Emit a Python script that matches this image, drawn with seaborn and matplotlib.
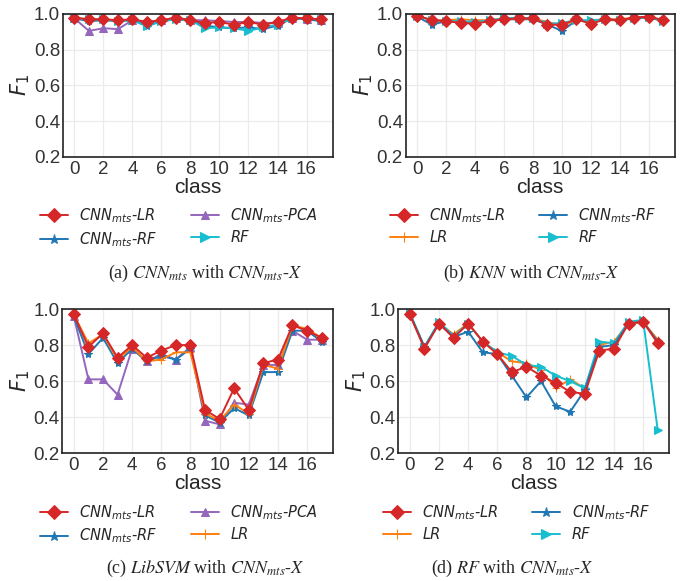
import seaborn as sns
import matplotlib.pyplot as plt
import numpy as np

classes = list(range(18))

# (a) CNN_mts with CNN_mts-X
a_cnn_lr = [0.98, 0.97, 0.97, 0.965, 0.97, 0.955, 0.965, 0.98, 0.965, 0.95, 0.955, 0.94, 0.955, 0.94, 0.955, 0.98, 0.975, 0.97]
a_cnn_pca = [0.975, 0.905, 0.92, 0.915, 0.965, 0.955, 0.965, 0.975, 0.965, 0.965, 0.96, 0.955, 0.955, 0.95, 0.95, 0.975, 0.97, 0.965]
a_cnn_rf = [0.975, 0.96, 0.965, 0.96, 0.965, 0.935, 0.96, 0.97, 0.965, 0.935, 0.925, 0.92, 0.925, 0.915, 0.935, 0.975, 0.97, 0.96]
a_rf = [0.975, 0.97, 0.97, 0.96, 0.965, 0.93, 0.96, 0.97, 0.965, 0.92, 0.925, 0.92, 0.905, 0.925, 0.94, 0.975, 0.975, 0.97]

# (b) KNN with CNN_mts-X
b_cnn_lr = [0.99, 0.965, 0.96, 0.95, 0.945, 0.96, 0.97, 0.975, 0.975, 0.94, 0.94, 0.97, 0.945, 0.97, 0.965, 0.98, 0.985, 0.965]
b_cnn_rf = [0.985, 0.94, 0.96, 0.955, 0.955, 0.96, 0.97, 0.97, 0.97, 0.94, 0.905, 0.965, 0.955, 0.965, 0.965, 0.975, 0.98, 0.96]
b_lr = [0.99, 0.965, 0.965, 0.97, 0.965, 0.965, 0.975, 0.975, 0.975, 0.955, 0.935, 0.965, 0.955, 0.97, 0.97, 0.98, 0.985, 0.965]
b_rf = [0.99, 0.965, 0.96, 0.96, 0.955, 0.965, 0.975, 0.98, 0.975, 0.945, 0.95, 0.965, 0.965, 0.97, 0.965, 0.975, 0.985, 0.96]

# (c) LibSVM with CNN_mts-X
c_cnn_lr = [0.97, 0.79, 0.865, 0.73, 0.80, 0.73, 0.77, 0.80, 0.80, 0.44, 0.39, 0.56, 0.44, 0.70, 0.72, 0.91, 0.88, 0.84]
c_cnn_pca = [0.96, 0.61, 0.61, 0.525, 0.78, 0.71, 0.75, 0.72, 0.79, 0.38, 0.36, 0.48, 0.47, 0.69, 0.69, 0.88, 0.83, 0.83]
c_cnn_rf = [0.96, 0.75, 0.84, 0.70, 0.78, 0.71, 0.74, 0.72, 0.78, 0.41, 0.37, 0.45, 0.41, 0.65, 0.65, 0.88, 0.88, 0.82]
c_lr = [0.97, 0.81, 0.86, 0.72, 0.79, 0.71, 0.72, 0.76, 0.76, 0.42, 0.38, 0.47, 0.42, 0.69, 0.67, 0.91, 0.89, 0.84]

# (d) RF with CNN_mts-X
d_cnn_lr = [0.97, 0.78, 0.92, 0.84, 0.92, 0.82, 0.75, 0.65, 0.68, 0.63, 0.59, 0.54, 0.53, 0.77, 0.78, 0.92, 0.93, 0.81]
d_cnn_rf = [0.97, 0.79, 0.92, 0.845, 0.875, 0.76, 0.75, 0.63, 0.51, 0.60, 0.46, 0.43, 0.55, 0.79, 0.80, 0.92, 0.93, 0.82]
d_lr = [0.97, 0.79, 0.92, 0.86, 0.92, 0.82, 0.76, 0.71, 0.70, 0.66, 0.56, 0.61, 0.56, 0.80, 0.82, 0.92, 0.93, 0.83]
d_rf = [0.98, 0.79, 0.93, 0.85, 0.92, 0.82, 0.76, 0.74, 0.69, 0.68, 0.63, 0.60, 0.56, 0.82, 0.81, 0.93, 0.94, 0.33]

captions = [r'(a) $\it{CNN}_{mts}$ with $\it{CNN}_{mts}$-$\it{X}$',
            r'(b) $\it{KNN}$ with $\it{CNN}_{mts}$-$\it{X}$',
            r'(c) $\it{LibSVM}$ with $\it{CNN}_{mts}$-$\it{X}$',
            r'(d) $\it{RF}$ with $\it{CNN}_{mts}$-$\it{X}$']

sns.set_style('whitegrid')
plt.rcParams['font.family'] = ['Liberation Sans', 'DejaVu Sans']

styles = {
    'CNN-LR': ('#d62728', 'D', 6.5, r'CNN$_{mts}$-LR'),
    'CNN-RF': ('#1f77b4', '*', 6, r'CNN$_{mts}$-RF'),
    'CNN-PCA': ('#9467bd', '^', 5.5, r'CNN$_{mts}$-PCA'),
    'LR': ('#ff7f0e', '+', 6, 'LR'),
    'RF': ('#17becf', '>', 6, 'RF'),
}

# series in draw order, legend order (column-wise fill)
panels = [
    ([('CNN-PCA', a_cnn_pca), ('CNN-RF', a_cnn_rf), ('RF', a_rf), ('CNN-LR', a_cnn_lr)],
     ['CNN-LR', 'CNN-RF', 'CNN-PCA', 'RF']),
    ([('CNN-RF', b_cnn_rf), ('LR', b_lr), ('RF', b_rf), ('CNN-LR', b_cnn_lr)],
     ['CNN-LR', 'LR', 'CNN-RF', 'RF']),
    ([('CNN-PCA', c_cnn_pca), ('CNN-RF', c_cnn_rf), ('LR', c_lr), ('CNN-LR', c_cnn_lr)],
     ['CNN-LR', 'CNN-RF', 'CNN-PCA', 'LR']),
    ([('LR', d_lr), ('RF', d_rf), ('CNN-RF', d_cnn_rf), ('CNN-LR', d_cnn_lr)],
     ['CNN-LR', 'LR', 'CNN-RF', 'RF']),
]

rects = [[0.092, 0.730, 0.395, 0.246],
         [0.594, 0.730, 0.394, 0.246],
         [0.091, 0.220, 0.397, 0.248],
         [0.583, 0.220, 0.397, 0.248]]
leg_pos = [(0.262, 0.667), (0.766, 0.667), (0.262, 0.157), (0.756, 0.157)]
cap_pos = [(0.30, 0.511), (0.778, 0.511), (0.30, 0.003), (0.75, 0.003)]

fig = plt.figure(figsize=(6.83, 5.81), dpi=100)

for i, (series, order) in enumerate(panels):
    ax = fig.add_axes(rects[i])
    handles = {}
    for key, vals in series:
        color, marker, ms, label = styles[key]
        sns.lineplot(x=classes, y=vals, ax=ax, color=color, marker=marker,
                     markersize=ms, markeredgecolor=color, linewidth=1.4)
        handles[key] = ax.lines[-1]
    ax.set_xlim(-0.8, 17.8)
    ax.set_ylim(0.2, 1.0)
    ax.set_xticks(range(0, 17, 2))
    ax.set_yticks([0.2, 0.4, 0.6, 0.8, 1.0])
    ax.tick_params(labelsize=13.5, pad=2, length=0, labelcolor='#333333')
    ax.tick_params(axis='x', pad=3)
    ax.set_xlabel('class', fontsize=15, labelpad=0)
    ax.set_ylabel(r'$F_1$', fontsize=15, labelpad=1)
    ax.grid(color='#ebebeb', linewidth=0.9)
    for sp in ax.spines.values():
        sp.set_color('#222222')
        sp.set_linewidth(1.2)
    fig.legend([handles[k] for k in order], [styles[k][3] for k in order],
               loc='upper center', bbox_to_anchor=leg_pos[i], ncol=2,
               frameon=False, prop={'style': 'italic', 'size': 10.5, 'family': 'DejaVu Sans'},
               handlelength=1.9, labelspacing=0.35, columnspacing=2.3,
               markerscale=1.1)
    fig.text(cap_pos[i][0], cap_pos[i][1], captions[i], ha='center', va='bottom',
             fontsize=13, family='Liberation Serif', math_fontfamily='stix')

fig.savefig('out.png', dpi=100)
